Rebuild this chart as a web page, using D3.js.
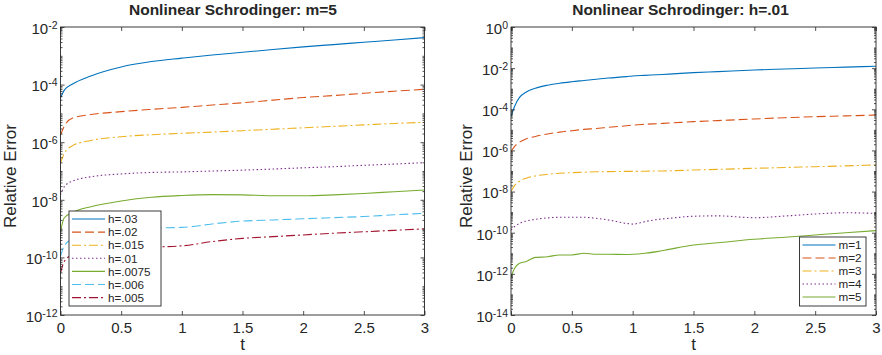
<!DOCTYPE html>
<html>
<head>
<meta charset="utf-8">
<script src="https://cdn.jsdelivr.net/npm/d3@7"></script>
<style>
  body { margin: 0; background: #fff; }
  text { font-family: "Liberation Sans", Arial, sans-serif; fill: #262626; }
</style>
</head>
<body>
<svg id="chart" width="882" height="355"></svg>
<script>
// ---- left panel data (m=5, varying h) ----
let tLeft = [0, 0.03, 0.1, 0.25, 0.5, 0.75, 1, 1.25, 1.5, 1.75, 2, 2.25, 2.5, 2.75, 3]
let errH030 = [3.4e-5, 6.3e-5, 1.05e-4, 2.0e-4, 4.1e-4, 6.3e-4, 8.3e-4, 1.07e-3, 1.32e-3, 1.66e-3, 2.04e-3, 2.45e-3, 2.95e-3, 3.55e-3, 4.27e-3]
let errH020 = [1.78e-6, 3.55e-6, 6.9e-6, 9.1e-6, 1.15e-5, 1.38e-5, 1.62e-5, 1.95e-5, 2.34e-5, 2.88e-5, 3.55e-5, 4.17e-5, 5.0e-5, 5.9e-5, 6.9e-5]
let errH015 = [1.91e-7, 3.98e-7, 7.6e-7, 1.15e-6, 1.55e-6, 1.82e-6, 2.04e-6, 2.24e-6, 2.51e-6, 2.82e-6, 3.16e-6, 3.55e-6, 3.98e-6, 4.47e-6, 4.9e-6]
let errH010 = [1.48e-8, 2.82e-8, 4.47e-8, 6.3e-8, 7.9e-8, 8.9e-8, 9.3e-8, 1.0e-7, 1.07e-7, 1.17e-7, 1.29e-7, 1.41e-7, 1.58e-7, 1.74e-7, 1.95e-7]
let errH0075 = [7.8e-10, 2.34e-9, 3.63e-9, 5.75e-9, 9.1e-9, 1.23e-8, 1.41e-8, 1.51e-8, 1.48e-8, 1.38e-8, 1.38e-8, 1.48e-8, 1.66e-8, 1.91e-8, 2.19e-8]
let errH006 = [1.07e-10, 2.51e-10, 4.47e-10, 7.1e-10, 9.3e-10, 1.05e-9, 1.1e-9, 1.45e-9, 1.82e-9, 2.0e-9, 2.19e-9, 2.4e-9, 2.63e-9, 3.02e-9, 3.39e-9]
let errH005 = [2.82e-11, 7.1e-11, 1.26e-10, 1.78e-10, 2.09e-10, 2.29e-10, 2.51e-10, 3.55e-10, 4.57e-10, 5.25e-10, 6.03e-10, 6.92e-10, 7.76e-10, 8.71e-10, 9.77e-10]
let leftNames = ['h=.03', 'h=.02', 'h=.015', 'h=.01', 'h=.0075', 'h=.006', 'h=.005']
let leftYTicks = [1e-12, 1e-10, 1e-8, 1e-6, 1e-4, 1e-2]

// ---- right panel data (h=.01, varying m) ----
let tRight = [0, 0.03, 0.07, 0.12, 0.2, 0.3, 0.4, 0.5, 0.6, 0.7, 0.8, 0.95, 1, 1.1, 1.2, 1.3, 1.5, 1.7, 2, 2.25, 2.5, 2.75, 3]
let errM1 = [4.4e-5, 1.41e-4, 3.8e-4, 6.6e-4, 1.05e-3, 1.48e-3, 1.86e-3, 2.19e-3, 2.51e-3, 2.88e-3, 3.31e-3, 3.89e-3, 4.17e-3, 4.47e-3, 4.79e-3, 5.13e-3, 6.03e-3, 6.76e-3, 8.13e-3, 9.12e-3, 1.02e-2, 1.12e-2, 1.23e-2]
let errM2 = [8.7e-7, 1.58e-6, 2.51e-6, 3.55e-6, 4.79e-6, 6.31e-6, 7.76e-6, 9.12e-6, 1.05e-5, 1.17e-5, 1.32e-5, 1.58e-5, 1.70e-5, 1.86e-5, 2.0e-5, 2.14e-5, 2.51e-5, 2.82e-5, 3.39e-5, 3.89e-5, 4.37e-5, 4.79e-5, 5.25e-5]
let errM3 = [1.0e-8, 2.0e-8, 3.16e-8, 4.37e-8, 5.75e-8, 6.92e-8, 7.76e-8, 8.32e-8, 8.71e-8, 9.12e-8, 9.33e-8, 9.55e-8, 9.55e-8, 9.77e-8, 1.0e-7, 1.02e-7, 1.12e-7, 1.2e-7, 1.35e-7, 1.48e-7, 1.62e-7, 1.78e-7, 1.95e-7]
let errM4 = [1.35e-10, 2.0e-10, 2.82e-10, 3.63e-10, 4.47e-10, 5.25e-10, 5.62e-10, 5.62e-10, 5.62e-10, 5.01e-10, 4.17e-10, 2.82e-10, 2.63e-10, 3.47e-10, 4.37e-10, 5.01e-10, 6.31e-10, 6.61e-10, 5.37e-10, 6.46e-10, 8.13e-10, 9.33e-10, 8.71e-10]
let errM5 = [7.24e-13, 1.86e-12, 3.24e-12, 3.89e-12, 6.31e-12, 6.76e-12, 8.32e-12, 8.32e-12, 1.0e-11, 8.91e-12, 8.91e-12, 8.71e-12, 8.91e-12, 1.0e-11, 1.2e-11, 1.55e-11, 2.51e-11, 3.24e-11, 4.79e-11, 6.03e-11, 7.76e-11, 1.0e-10, 1.26e-10]
let rightNames = ['m=1', 'm=2', 'm=3', 'm=4', 'm=5']
let rightYTicks = [1e-14, 1e-12, 1e-10, 1e-8, 1e-6, 1e-4, 1e-2, 1e0]

let tTicks = [0, 0.5, 1, 1.5, 2, 2.5, 3]

// matlab default line colors + styles
let colors = ['#0072BD', '#D95319', '#EDB120', '#7E2F8E', '#77AC30', '#4DBEEE', '#A2142F']
let dashes = [null, '9,4', '9,3,2,3', '1.5,2.5', null, '9,4', '9,3,2,3']

let axisColor = '#262626'
let svg = d3.select('#chart')

function drawPanel(cfg){
  let x = d3.scaleLinear().domain([0, 3]).range([cfg.left, cfg.right])
  let y = d3.scaleLog().domain([cfg.yTicks[0], cfg.yTicks[cfg.yTicks.length - 1]]).range([cfg.bottom, cfg.top])
  let g = svg.append('g')

  g.append('clipPath').attr('id', cfg.id + '-clip')
    .append('rect')
    .attr('x', cfg.left).attr('y', cfg.top)
    .attr('width', cfg.right - cfg.left).attr('height', cfg.bottom - cfg.top)

  // series
  let line = d3.line()
    .x(function(d){ return x(d[0]) })
    .y(function(d){ return y(d[1]) })
    .curve(d3.curveMonotoneX)

  let lines = g.append('g').attr('clip-path', 'url(#' + cfg.id + '-clip)')
  cfg.series.forEach(function(s, i){
    lines.append('path')
      .datum(cfg.t.map(function(t, j){ return [t, s[j]] }))
      .attr('fill', 'none')
      .attr('stroke', colors[i])
      .attr('stroke-width', 1.1)
      .attr('stroke-dasharray', dashes[i])
      .attr('d', line)
  })

  // minor log ticks (every decade, 2..9)
  let lo = Math.round(Math.log10(y.domain()[0])), hi = Math.round(Math.log10(y.domain()[1]))
  let minor = []
  for (let e = lo; e < hi; e++) {
    for (let k = 1; k < 10; k++) minor.push(k * Math.pow(10, e))
  }
  minor = minor.filter(function(v){ return cfg.yTicks.indexOf(v) < 0 })

  let yl = g.append('g').attr('transform', 'translate(' + cfg.left + ',0)')
    .call(d3.axisLeft(y).tickValues(minor).tickSize(-2).tickFormat(''))
  let yr = g.append('g').attr('transform', 'translate(' + cfg.right + ',0)')
    .call(d3.axisRight(y).tickValues(minor).tickSize(-2).tickFormat(''))
  let yAxisL = g.append('g').attr('transform', 'translate(' + cfg.left + ',0)')
    .call(d3.axisLeft(y).tickValues(cfg.yTicks).tickSize(-4).tickPadding(3).tickSizeOuter(0))
  let yAxisR = g.append('g').attr('transform', 'translate(' + cfg.right + ',0)')
    .call(d3.axisRight(y).tickValues(cfg.yTicks).tickSize(-4).tickSizeOuter(0).tickFormat(''))
  let xAxisB = g.append('g').attr('transform', 'translate(0,' + cfg.bottom + ')')
    .call(d3.axisBottom(x).tickValues(tTicks).tickSize(-4).tickPadding(7).tickSizeOuter(0).tickFormat(d3.format('')))
  let xAxisT = g.append('g').attr('transform', 'translate(0,' + cfg.top + ')')
    .call(d3.axisTop(x).tickValues(tTicks).tickSize(-4).tickSizeOuter(0).tickFormat(''))

  ;[yl, yr, yAxisL, yAxisR, xAxisB, xAxisT].forEach(function(a){
    a.select('.domain').remove()
    a.selectAll('line').attr('stroke', axisColor).attr('stroke-width', 0.8)
  })

  xAxisB.selectAll('text')
    .style('font-size', '15px')
    .attr('fill', axisColor)

  // y labels as 10^n
  yAxisL.selectAll('text')
    .style('font-size', '15px')
    .attr('fill', axisColor)
    .attr('dy', '0.42em')
    .each(function(d){
      let t = d3.select(this).text('')
      t.append('tspan').text('10')
      t.append('tspan').attr('dy', '-0.5em').style('font-size', '10.5px').text(Math.round(Math.log10(d)))
    })

  g.append('rect')
    .attr('x', cfg.left).attr('y', cfg.top)
    .attr('width', cfg.right - cfg.left).attr('height', cfg.bottom - cfg.top)
    .attr('fill', 'none').attr('stroke', axisColor).attr('stroke-width', 0.9)

  // title + labels
  g.append('text')
    .attr('x', cfg.titleX).attr('y', 15)
    .attr('text-anchor', 'middle')
    .style('font-size', '15.5px').style('font-weight', 'bold')
    .attr('fill', '#000')
    .text(cfg.title)
  g.append('text')
    .attr('x', (cfg.left + cfg.right) / 2).attr('y', 350)
    .attr('text-anchor', 'middle')
    .style('font-size', '17px')
    .text('t')
  g.append('text')
    .attr('transform', 'translate(' + cfg.yLabelX + ',176) rotate(-90)')
    .attr('text-anchor', 'middle')
    .style('font-size', '17px')
    .text('Relative Error')

  // legend
  let lg = g.append('g')
  lg.append('rect')
    .attr('x', cfg.legend.x).attr('y', cfg.legend.y)
    .attr('width', cfg.legend.w).attr('height', cfg.legend.h)
    .attr('fill', '#fff').attr('stroke', axisColor).attr('stroke-width', 0.9)
  cfg.names.forEach(function(name, i){
    let ly = cfg.legend.y + 8 + i * cfg.legend.step
    lg.append('line')
      .attr('x1', cfg.legend.x + 3).attr('x2', cfg.legend.x + 36)
      .attr('y1', ly).attr('y2', ly)
      .attr('stroke', colors[i]).attr('stroke-width', 1.1)
      .attr('stroke-dasharray', dashes[i])
    lg.append('text')
      .attr('x', cfg.legend.x + 39).attr('y', ly)
      .attr('dy', '0.36em')
      .style('font-size', '11.7px')
      .text(name)
  })
}

drawPanel({
  id: 'left', left: 60.5, right: 424.5, top: 27, bottom: 315,
  t: tLeft,
  series: [errH030, errH020, errH015, errH010, errH0075, errH006, errH005],
  names: leftNames, yTicks: leftYTicks,
  title: 'Nonlinear Schrodinger: m=5', titleX: 233, yLabelX: 16,
  legend: { x: 69, y: 211, w: 92, h: 95, step: 13.1 }
})

drawPanel({
  id: 'right', left: 511, right: 876, top: 27, bottom: 315,
  t: tRight,
  series: [errM1, errM2, errM3, errM4, errM5],
  names: rightNames, yTicks: rightYTicks,
  title: 'Nonlinear Schrodinger: h=.01', titleX: 680.5, yLabelX: 472,
  legend: { x: 799.5, y: 237, w: 66.5, h: 69, step: 13 }
})
</script>
</body>
</html>
